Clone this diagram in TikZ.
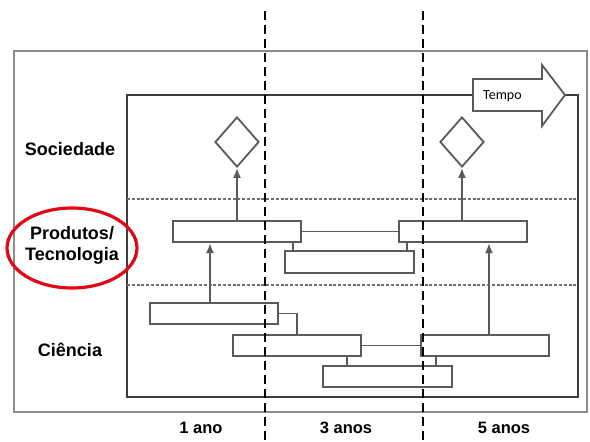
\documentclass[tikz,border=0pt]{standalone}
\usepackage{fontspec}
\setmainfont{Liberation Sans}
\newfontfamily\tempofont{Carlito}
\usetikzlibrary{shapes.geometric,arrows.meta,calc}
\definecolor{boxgray}{HTML}{5A5A5A}
\definecolor{framegray}{HTML}{8C8C8C}
\definecolor{innergray}{HTML}{3C3C3C}
\definecolor{dotgray}{HTML}{6E6E6E}
\definecolor{ovalred}{HTML}{E30613}
\begin{document}
\begin{tikzpicture}[x=1pt,y=-1pt,
  boxn/.style={rectangle, draw=boxgray, line width=2pt, fill=white, minimum width=128pt, minimum height=21pt, inner sep=0pt},
  dmd/.style={diamond, draw=boxgray, line width=1.8pt, fill=white, minimum width=44pt, minimum height=50pt, inner sep=0pt},
  conn/.style={draw=boxgray, line width=1.9pt},
  upar/.style={conn, -{Latex[length=10pt,width=8pt]}},
  lbl/.style={font=\bfseries\fontsize{18}{21}\selectfont, align=center, inner sep=0pt},
  blbl/.style={font=\bfseries\fontsize{16.5}{19}\selectfont, inner sep=0pt},
  dotline/.style={draw=dotgray, line width=2.4pt, dash pattern=on 3pt off 1.8pt},
  vdash/.style={draw=black, line width=2.2pt, dash pattern=on 9pt off 5pt}]
\useasboundingbox (0,0) rectangle (590,442);
% frames
\draw[framegray, line width=1.8pt] (14,51) rectangle (587,412);
\draw[innergray, line width=2.5pt] (127,95) rectangle (578,397);
% dotted separators
\draw[dotline] (127,199) -- (578,199);
\draw[dotline] (127,285) -- (578,285);
% Tempo arrow
\draw[boxgray, line width=1.8pt, fill=white, line join=miter] (473,79) -- (542,79) -- (542,65) -- (565,95) -- (542,126) -- (542,111) -- (473,111) -- cycle;
\node[font=\tempofont\fontsize{14}{15}\selectfont, anchor=west, inner sep=0pt] (tempo) at (483,96) {Tempo};
% left labels
\node[lbl] (soc) at (70,149) {Sociedade};
\node[lbl] (prod) at (72,245) {Produtos/\\Tecnologia};
\node[lbl] (cien) at (70,350) {Ciência};
\draw[ovalred, line width=3.2pt] (72,248) ellipse [x radius=65pt, y radius=40pt];
% bottom labels
\node[blbl] (y1) at (201,428) {1 ano};
\node[blbl] (y3) at (346,428) {3 anos};
\node[blbl] (y5) at (504,428) {5 anos};
% diamonds
\node[dmd] (D1) at (237,142) {};
\node[dmd] (D2) at (462,142) {};
% boxes
\node[boxn] (P1) at (237,231.5) {};
\node[boxn] (P2) at (463,231.5) {};
\node[boxn, minimum width=129pt, minimum height=22pt] (P3) at (349.5,262) {};
\node[boxn] (S1) at (214,313.5) {};
\node[boxn] (S2) at (297,345.5) {};
\node[boxn] (S4) at (485,345.5) {};
\node[boxn, minimum width=129pt] (S3) at (387.5,376.5) {};
% box-to-box links
\draw[conn] (P1.east) -- (P2.west);
\draw[conn] ([xshift=56pt]P1.south) coordinate (a) -- (a |- P3.north);
\draw[conn] ([xshift=-56pt]P2.south) coordinate (b) -- (b |- P3.north);
\draw[conn] (S1.east) -| (S2.north);
\draw[conn] (S2.east) -- (S4.west);
\draw[conn] ([xshift=50pt]S2.south) coordinate (c) -- (c |- S3.north);
\draw[conn] ([xshift=-49pt]S4.south) coordinate (d) -- (d |- S3.north);
% arrows
\draw[upar] ([xshift=-4pt]S1.north) coordinate (e) -- (e |- P1.south);
\draw[upar] ([xshift=4pt]S4.north) coordinate (f) -- (f |- P2.south);
\draw[upar] (P1.north) -- (D1.south);
\draw[upar] (D2.south |- P2.north) -- (D2.south);
% time dashed lines
\draw[vdash] (265,11) -- (265,440);
\draw[vdash] (423,11) -- (423,440);
\end{tikzpicture}
\end{document}
